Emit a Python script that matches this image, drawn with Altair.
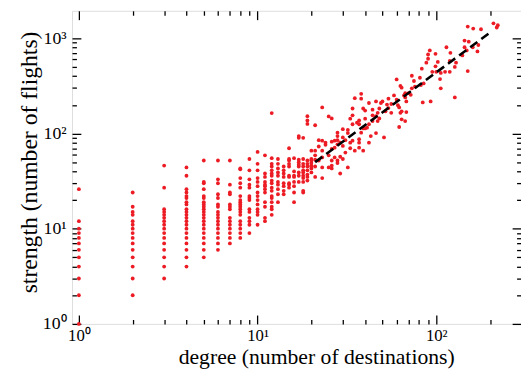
import altair as alt
import pandas as pd

# ---- data ----
col_degrees = list(range(1, 22))
col_strengths = [
    [1, 2, 3, 4, 5, 6, 7, 8, 9, 10, 12, 26],
    [2, 3, 4, 5, 6, 7, 8, 9, 10, 11, 12, 14, 15, 17, 24],
    [3, 4, 5, 6, 7, 8, 9, 10, 11, 12, 13, 14, 15, 16, 27, 46],
    [4, 5, 6, 7, 8, 9, 10, 11, 12, 13, 14, 15, 16, 18, 19, 21, 22, 24, 26, 36, 44],
    [5, 6, 7, 8, 9, 10, 11, 12, 13, 14, 15, 16, 17, 18, 19, 21, 22, 26, 30, 31, 52],
    [6, 7, 8, 9, 10, 11, 12, 13, 14, 15, 17, 18, 21, 23, 30, 33, 52],
    [7, 8, 9, 10, 11, 12, 13, 16, 17, 18, 23, 24, 29, 52],
    [8, 9, 10, 11, 12, 14, 15, 16, 17, 18, 19, 20, 22, 27, 30, 34, 42, 43],
    [9, 11, 12, 13, 15, 16, 20, 21, 22, 27, 29, 33, 41, 54],
    [11, 14, 15, 16, 18, 20, 22, 24, 28, 31, 34, 41, 48, 64],
    [12, 13, 17, 19, 24, 26, 28, 29, 31, 35, 38, 59],
    [14, 16, 17, 19, 21, 22, 25, 27, 30, 32, 36, 38, 41, 45, 48, 55, 164],
    [19, 23, 26, 29, 31, 36, 39, 43, 48, 54],
    [23, 25, 28, 30, 35, 38, 41, 45],
    [27, 29, 30, 35, 36, 45, 48, 52, 54, 70],
    [19, 24, 28, 31, 35, 36, 40, 55],
    [31, 36, 39, 45, 47, 50, 53, 90, 94],
    [24, 25, 31, 34, 36, 39, 41, 45, 48, 54, 90],
    [32, 35, 37, 41, 45, 48, 52, 126, 137, 152],
    [39, 43, 45, 46, 49, 52, 54, 66],
    [35, 45, 53, 59, 66, 122],
]

hub_degree = [
    23, 25, 26, 35, 34, 33, 37, 36, 34, 30, 32, 32, 28, 28, 30,
    22, 23, 24, 26, 27, 28, 29, 31, 33, 34, 37,
    22, 23, 24, 26, 27, 28, 30, 31, 33, 35, 37,
    23, 25, 26, 27, 28, 29, 30, 32, 22, 23, 25, 26, 28, 29, 26, 23,
    92, 90, 99, 90, 102, 88, 114, 83, 99, 100, 95, 105, 106, 112,
    73, 81, 60, 75, 85, 82, 63, 64, 73, 76, 67, 70, 72, 58, 66, 67,
    54, 60, 68, 56, 61, 62, 53, 54, 84, 93, 50, 46, 49, 48, 52, 56,
    63, 64, 68, 67, 64, 62, 38, 38, 42, 44, 39, 40, 34, 46, 47, 44,
    48, 47, 44, 42, 40, 41, 40, 37, 39, 38, 43, 46, 51, 37, 42, 39,
    150, 161, 178, 209, 221, 218, 144, 152, 172, 144, 148, 170, 160,
    120, 140, 119, 129, 127, 119, 106, 150, 127,
]
hub_strength = [
    188, 151, 144, 235, 155, 143, 137, 130, 125, 111, 109, 101, 102, 94, 91,
    85, 84, 80, 82, 84, 85, 80, 85, 80, 84, 80,
    73, 66, 76, 69, 71, 77, 74, 63, 70, 66, 71,
    56, 59, 52, 56, 52, 57, 54, 44, 52, 44, 44, 46, 49, 38, 43, 34,
    745, 676, 687, 610, 564, 554, 805, 480, 508, 444, 444, 373, 298, 444,
    404, 385, 370, 356, 336, 323, 316, 303, 298, 311, 265, 265, 255, 251, 251, 239,
    232, 226, 217, 204, 198, 188, 201, 185, 212, 217, 217, 217, 209, 183, 171, 165,
    165, 171, 168, 135, 141, 117, 261, 232, 209, 178, 183, 174, 183, 152, 165, 155,
    144, 135, 135, 125, 143, 115, 113, 125, 113, 102, 94, 101, 91, 87, 80, 66,
    1327, 1265, 1245, 1436, 1370, 1297, 945, 922, 850, 805, 745, 727, 805,
    703, 661, 577, 554, 500, 444, 433, 452, 239,
]

fit_degree = [21, 204]
fit_strength = [50, 1180]

x_major = [1, 10, 100]
x_minor = [2, 3, 4, 5, 6, 7, 8, 9, 20, 30, 40, 50, 60, 70, 80, 90, 200]
y_major = [1, 10, 100, 1000]
y_minor = [2, 3, 4, 5, 6, 7, 8, 9, 20, 30, 40, 50, 60, 70, 80, 90,
           200, 300, 400, 500, 600, 700, 800, 900]

x_title = "degree (number of destinations)"
y_title = "strength (number of flights)"

# ---- tables ----
rows = [(k, s) for k, ss in zip(col_degrees, col_strengths) for s in ss]
rows += list(zip(hub_degree, hub_strength))
points = pd.DataFrame(rows, columns=["degree", "strength"])
fit = pd.DataFrame({"degree": fit_degree, "strength": fit_strength})

FONT = "Liberation Serif"
RED = "#ec1b24"
label_expr = "'10' + ['\u2070','\u00b9','\u00b2','\u00b3'][round(log(datum.value)/LN10)]"

xscale = alt.Scale(type="log", domain=[0.915, 298], nice=False)
yscale = alt.Scale(type="log", domain=[1, 1944], nice=False)


def tick_axis(orient, values, size):
    return alt.Axis(orient=orient, values=values, labels=False, domain=False,
                    grid=False, ticks=True, tickSize={"expr": str(-size)},
                    tickColor="black", tickWidth=1.3, title=None)


label_x = alt.Axis(orient="bottom", values=x_major, labelExpr=label_expr,
                   ticks=False, domain=False, grid=False,
                   labelFont=FONT, labelFontSize=17, labelColor="black",
                   labelPadding=4, labelBaseline="top",
                   title=x_title, titleFont=FONT, titleFontSize=22,
                   titleFontWeight="normal", titleColor="black",
                   titleX=248, titleY=40, titleAlign="center",
                   titleBaseline="alphabetic")
label_y = alt.Axis(orient="left", values=y_major, labelExpr=label_expr,
                   ticks=False, domain=False, grid=False,
                   labelFont=FONT, labelFontSize=18, labelColor="black",
                   labelPadding=6, labelBaseline="middle",
                   title=y_title, titleFont=FONT, titleFontSize=24,
                   titleFontWeight="normal", titleColor="black",
                   titleAngle=270, titleX=-36.5, titleY=153.5,
                   titleAlign="center", titleBaseline="alphabetic")

scatter = alt.Chart(points).mark_circle(size=15, color=RED, opacity=1).encode(
    x=alt.X("degree:Q", scale=xscale, axis=label_x),
    y=alt.Y("strength:Q", scale=yscale, axis=label_y),
)
fit_line = alt.Chart(fit).mark_line(color="black", strokeWidth=2.6,
                                    strokeDash=[9, 5]).encode(
    x=alt.X("degree:Q", scale=xscale, axis=tick_axis("bottom", x_major, 9)),
    y=alt.Y("strength:Q", scale=yscale, axis=tick_axis("left", y_major, 9)),
)
g1 = alt.Chart(fit).mark_line(opacity=0).encode(
    x=alt.X("degree:Q", scale=xscale, axis=tick_axis("bottom", x_minor, 4.5)),
    y=alt.Y("strength:Q", scale=yscale, axis=tick_axis("left", y_minor, 4.5)),
)
g2 = alt.Chart(fit).mark_line(opacity=0).encode(
    x=alt.X("degree:Q", scale=xscale, axis=tick_axis("top", x_major, 9)),
    y=alt.Y("strength:Q", scale=yscale, axis=tick_axis("right", y_major, 9)),
)
g3 = alt.Chart(fit).mark_line(opacity=0).encode(
    x=alt.X("degree:Q", scale=xscale, axis=tick_axis("top", x_minor, 4.5)),
    y=alt.Y("strength:Q", scale=yscale, axis=tick_axis("right", y_minor, 4.5)),
)

chart = alt.layer(scatter, fit_line, g1, g2, g3).resolve_axis(
    x="independent", y="independent"
).properties(
    width=456, height=318,
    autosize=alt.AutoSizeParams(type="none"),
    padding={"left": 65, "top": 0, "right": 0, "bottom": 46},
).configure_view(stroke="#222222", strokeWidth=2.4).configure(background="white")

chart.save("out.html", embed_options={"renderer": "svg", "actions": False})
